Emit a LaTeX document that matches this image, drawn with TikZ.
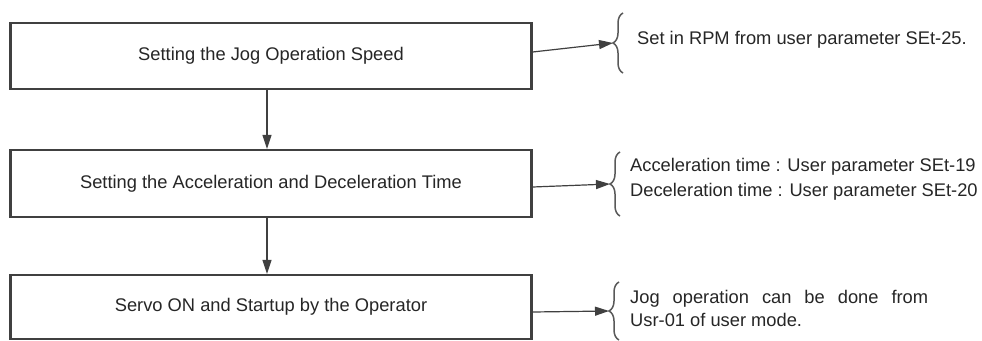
\documentclass[tikz,border=0pt]{standalone}
\usepackage{fontspec}
\setmainfont{Liberation Sans}
\usetikzlibrary{arrows.meta,decorations.pathreplacing}
\begin{document}
\begin{tikzpicture}[x=1pt, y=-1pt,
    stepbox/.style={draw=black!75, line width=2.2pt, minimum width=521pt, inner sep=0pt, text=black!85, font=\fontsize{18.3}{22}\selectfont},
    note/.style={anchor=west, inner sep=0pt, align=left, text=black!85, font=\fontsize{18.3}{25}\selectfont},
    flow/.style={draw=black!75, line width=1.2pt, -{Triangle[length=14pt,width=9pt]}},
    curly/.style={draw=black!65, line width=1.5pt, decorate, decoration={brace, amplitude=10pt}}]
    \clip (0,0) rectangle (982,340);
    \fill[white] (0,0) rectangle (982,340);

    \node (speed) at (271,56) [stepbox, minimum height=66pt] {Setting the Jog Operation Speed};
    \node (accel) at (271,183.5) [stepbox, minimum height=67pt] {Setting the Acceleration and Deceleration Time};
    \node (servo) at (271,307) [stepbox, minimum height=64pt] {Servo ON and Startup by the Operator};

    \draw[flow] ([xshift=-4pt]speed.south) -- ([xshift=-4pt]accel.north);
    \draw[flow] ([xshift=-4pt]accel.south) -- ([xshift=-4pt]servo.north);

    % braces
    \coordinate (tip1) at (613,43);
    \coordinate (tip2) at (610,184);
    \coordinate (tip3) at (609,311);
    \draw[curly] (623,73) -- (623,13);
    \draw[curly] (620,216) -- (620,152);
    \draw[curly] (619,340) -- (619,282);

    \draw[flow] ([yshift=4pt]speed.east) -- (tip1);
    \draw[flow] ([yshift=-3.5pt]accel.east) -- (tip2);
    \draw[flow] ([yshift=-5pt]servo.east) -- (tip3);

    \node (rpm) at (637,40) [note] {Set in RPM from user parameter SEt-25.};
    \node (times) at (630,179.5) [note] {Acceleration time : User parameter SEt-19\\Deceleration time : User parameter SEt-20};
    \node (usr) at (630,308.5) [note, font=\fontsize{18.3}{23}\selectfont] {\makebox[298pt][s]{Jog operation can be done from}\\Usr-01 of user mode.};
\end{tikzpicture}
\end{document}
